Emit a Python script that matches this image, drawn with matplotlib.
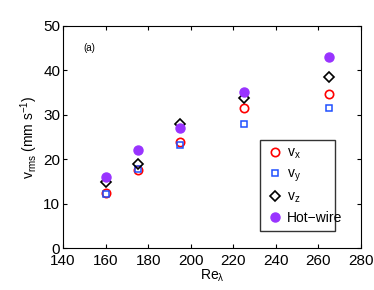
import matplotlib
matplotlib.use("Agg")
import matplotlib.pyplot as plt

re_lambda = [160, 175, 195, 225, 265]
v_x = [12.3, 17.6, 23.8, 31.6, 34.6]
v_y = [12.2, 17.7, 23.2, 28.0, 31.4]
v_z = [14.8, 18.9, 28.0, 33.8, 38.4]
hot_wire = [16.0, 22.0, 27.0, 35.0, 43.0]

plt.rcParams["font.family"] = ["Liberation Sans", "DejaVu Sans"]
plt.rcParams["mathtext.fontset"] = "custom"
plt.rcParams["mathtext.rm"] = "Liberation Sans"
plt.rcParams["mathtext.it"] = "Liberation Sans"

fig = plt.figure(figsize=(3.74, 2.90), dpi=100)
ax = fig.add_axes([63 / 374, 1 - 248 / 290, 298 / 374, 222.3 / 290])

ax.plot(re_lambda, v_x, "o", mfc="none", mec="red", mew=1.2, ms=6, label=r"v$_x$")
ax.plot(re_lambda, v_y, "s", mfc="none", mec="#1f4fff", mew=1.1, ms=5, label=r"v$_y$")
ax.plot(re_lambda, v_z, "D", mfc="none", mec="black", mew=1.2, ms=5.5, label=r"v$_z$")
ax.plot(re_lambda, hot_wire, "o", color="#9933ff", ms=6.5, label="Hot\u2212wire")

ax.set_xlim(140, 280)
ax.set_ylim(0, 50)
ax.set_xticks(range(140, 281, 20))
ax.set_yticks(range(0, 51, 10))
ax.tick_params(direction="in", top=True, right=True, labelsize=11, length=3, width=0.8)
ax.tick_params(axis="x", pad=4)
ax.tick_params(axis="y", pad=2)
for s in ax.spines.values():
    s.set_linewidth(0.8)

ax.set_xlabel(r"Re$_\lambda$", fontsize=10, labelpad=0)
ax.set_ylabel(r"v$_{\rm rms}$ (mm s$^{-1}$)", fontsize=10, labelpad=2)
ax.text(0.068, 0.885, "(a)", transform=ax.transAxes, fontsize=7)

leg = ax.legend(loc="lower left", bbox_to_anchor=(0.661, 0.076, 0.252, 0.401), mode="expand",
                borderaxespad=0, fontsize=10, frameon=True, fancybox=False, edgecolor="black",
                borderpad=0.45, labelspacing=0.4, handletextpad=0.3, handlelength=1.2)
leg.get_frame().set_linewidth(1.0)

fig.savefig("out.png", dpi=100)
